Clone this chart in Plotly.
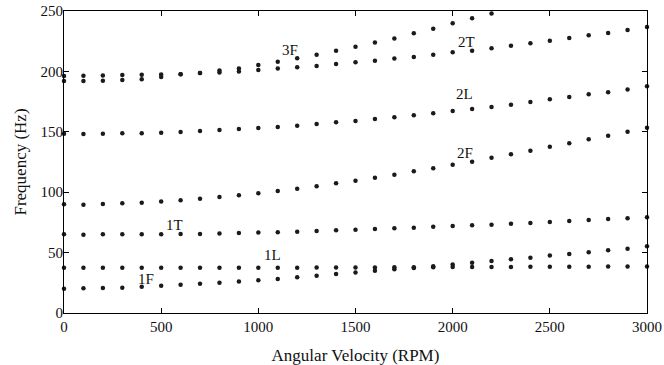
import plotly.graph_objects as go

rpm = list(range(0, 3001, 100))

mode_1F = [20.0, 20.5, 20.7, 21.0, 21.7, 22.5, 23.4, 24.2, 25.1, 26.0, 27.2, 28.2, 29.5, 30.9, 32.3, 33.6,
           35.0, 36.2, 37.3, 38.6, 40.2, 41.7, 43.0, 44.4, 45.8, 47.5, 48.8, 50.2, 51.9, 53.2, 55.2]
mode_1L = [37.5, 37.5, 37.5, 37.5, 37.5, 37.5, 37.5, 37.5, 37.5, 37.5, 37.5, 37.5, 37.5, 37.6, 37.6, 37.7,
           37.7, 37.8, 37.8, 37.9, 38.0, 38.0, 38.1, 38.1, 38.2, 38.2, 38.3, 38.3, 38.4, 38.4, 38.5]
mode_1T = [65.1, 64.8, 65.1, 65.1, 65.1, 65.1, 65.4, 65.4, 65.9, 66.2, 66.6, 66.8, 67.3, 67.9, 68.4, 69.0,
           69.5, 70.1, 70.6, 71.4, 72.0, 72.6, 73.1, 73.9, 74.5, 75.3, 76.2, 77.0, 77.8, 78.4, 79.2]
mode_2F = [90.0, 89.7, 90.2, 90.8, 91.3, 92.4, 93.3, 94.6, 96.0, 97.4, 99.1, 101.0, 102.9, 104.9, 107.4, 109.5,
           112.0, 114.5, 117.3, 119.8, 122.8, 125.3, 128.6, 131.4, 134.4, 137.7, 140.5, 143.8, 146.8, 150.1, 153.4]
mode_2L = [148.4, 148.2, 148.4, 148.7, 148.7, 149.3, 149.8, 150.7, 151.5, 152.3, 153.1, 154.0, 155.0, 156.5, 157.9, 158.9,
           160.6, 162.0, 163.7, 165.3, 167.2, 168.9, 170.5, 172.4, 174.7, 176.9, 178.8, 181.0, 182.8, 185.0, 187.7]
mode_2T = [192.0, 192.0, 192.3, 192.9, 193.5, 195.3, 197.6, 198.7, 199.0, 199.9, 201.2, 202.4, 203.4, 204.5, 206.1, 207.5,
           208.9, 210.6, 212.0, 213.8, 215.8, 217.1, 219.1, 221.3, 223.3, 225.4, 227.6, 229.9, 231.8, 234.3, 236.8]
mode_3F = [196.2, 196.5, 196.7, 197.0, 197.3, 197.5, 197.6, 198.7, 200.7, 202.5, 205.3, 208.0, 210.8, 213.8, 217.1, 220.4,
           224.0, 227.3, 231.5, 235.3, 239.8, 243.9, 248.0]

label_text = ["3F", "2T", "2L", "2F", "1T", "1L", "1F"]
label_x = [1163, 2069, 2059, 2064, 571, 1072, 422]
label_y = [217.7, 224.6, 181.0, 132.7, 72.8, 48.0, 27.9]

x_ticks = [0, 500, 1000, 1500, 2000, 2500, 3000]
y_ticks = [0, 50, 100, 150, 200, 250]

FONT = "Liberation Serif"
DOT = "#1a1a1a"

fig = go.Figure()
series = [mode_1F, mode_1L, mode_1T, mode_2F, mode_2L, mode_2T, mode_3F]
for s in series:
    fig.add_trace(go.Scatter(
        x=rpm[:len(s)], y=s, mode="markers",
        marker=dict(size=4.5, color=DOT),
        cliponaxis=False, showlegend=False, hoverinfo="x+y"))

for t, lx, ly in zip(label_text, label_x, label_y):
    fig.add_annotation(x=lx, y=ly, text=t, showarrow=False,
                       font=dict(family=FONT, size=15, color="#111"))

axis_common = dict(
    showline=True, linecolor="black", linewidth=1.2, mirror="ticks",
    ticks="inside", ticklen=5, tickcolor="black", tickwidth=1,
    showgrid=False, zeroline=False, automargin=False,
    ticklabeloverflow="allow",
    tickfont=dict(family=FONT, size=15, color="#111"),
)

fig.update_xaxes(range=[0, 3000], tickvals=x_ticks, ticktext=[str(v) for v in x_ticks],
                 title=dict(text="Angular Velocity (RPM)", font=dict(family=FONT, size=17, color="#111")),
                 **axis_common)
fig.update_yaxes(range=[0, 250], tickvals=y_ticks, ticktext=[str(v) for v in y_ticks],
                 ticklabelstandoff=-3,
                 title=dict(text="Frequency (Hz)", font=dict(family=FONT, size=17, color="#111"), standoff=9),
                 **axis_common)

fig.update_layout(
    width=664, height=365,
    margin=dict(l=64, r=17, t=11, b=52),
    paper_bgcolor="white", plot_bgcolor="white",
    font=dict(family=FONT),
)

fig.write_html("out.html", config={"displayModeBar": False},
               post_script="document.body.style.margin='0';document.body.style.overflow='hidden';")
